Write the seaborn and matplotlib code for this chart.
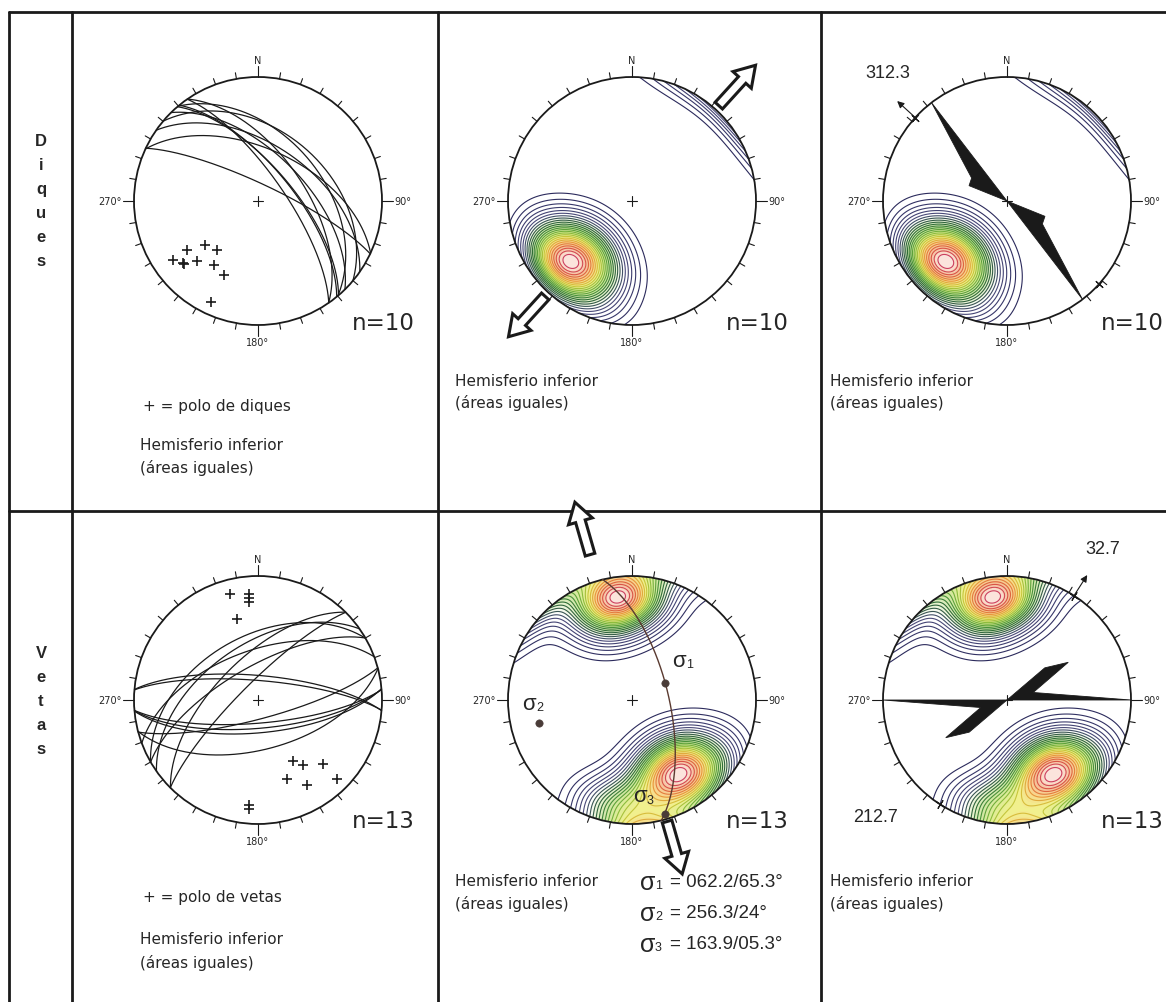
import numpy as np
import pandas as pd
import seaborn as sns
import matplotlib
matplotlib.use("Agg")
import matplotlib.pyplot as plt
from matplotlib.patches import Circle, FancyArrow, Polygon
from matplotlib.colors import LinearSegmentedColormap

sns.set_theme(style="white")
plt.rcParams['font.family'] = ['DejaVu Sans']

# polos de diques (trend / plunge)
dique_trend = [229.9, 220.1, 235.3, 235.2, 230.6, 229.5, 225.5, 214.8, 204.8, 205.2]
dique_plunge = [43.9, 47.5, 30.9, 17.2, 22.3, 22.8, 31.2, 37.4, 34.6, 11.3]

# polos de vetas (trend / plunge)
veta_trend = [345.0, 355.2, 355.0, 354.8, 345.3, 150.1, 145.0, 134.9, 159.6, 150.0, 135.0, 184.9, 184.7]
veta_plunge = [12.4, 15.2, 18.6, 21.6, 32.9, 42.5, 36.6, 27.3, 32.8, 21.8, 11.2, 16.1, 12.8]

# ejes de esfuerzo (vetas)
sigma_names = ["σ1", "σ2", "σ3"]
sigma_trend = [62.2, 256.3, 163.9]
sigma_plunge = [65.3, 24.0, 5.3]
sigma_txt = ["062.2/65.3°", "256.3/24°", "163.9/05.3°"]

# rosetas (azimut de vertice / longitud relativa)
rose_dique_az = [292.0, 303.0, 322.5]
rose_dique_len = [0.33, 0.34, 1.0]
rose_veta_az = [49.6, 58.4, 74.0, 90.0]
rose_veta_len = [0.40, 0.58, 0.22, 1.0]

mean_dique = 312.3
mean_veta = 32.7


def project(trend, plunge):
    t = np.radians(np.asarray(trend, float))
    p = np.radians(np.asarray(plunge, float))
    r = np.sqrt(2) * np.sin((np.pi / 2 - p) / 2)
    return r * np.sin(t), r * np.cos(t)


def plane_from_pole(trend, plunge, n=181):
    dd = np.radians(trend + 180)
    dip = np.radians(90 - plunge)
    s = dd - np.pi / 2
    sv = np.array([np.sin(s), np.cos(s), 0.0])
    dv = np.array([np.cos(dip) * np.sin(dd), np.cos(dip) * np.cos(dd), np.sin(dip)])
    t = np.linspace(0, np.pi, n)
    v = np.outer(np.cos(t), sv) + np.outer(np.sin(t), dv)
    tr = np.degrees(np.arctan2(v[:, 0], v[:, 1]))
    pl = np.degrees(np.arcsin(np.clip(v[:, 2], -1, 1)))
    return project(tr, pl)


def vec(trend, plunge):
    t = np.radians(np.asarray(trend, float))
    p = np.radians(np.asarray(plunge, float))
    return np.stack([np.cos(p) * np.sin(t), np.cos(p) * np.cos(t), np.sin(p)], -1)


def density(trend, plunge, k=13, n=301):
    xs = np.linspace(-1.05, 1.05, n)
    X, Y = np.meshgrid(xs, xs)
    R = np.hypot(X, Y)
    th = 2 * np.arcsin(np.clip(R / np.sqrt(2), 0, 1))
    tr = np.arctan2(X, Y)
    G = np.stack([np.sin(th) * np.sin(tr), np.sin(th) * np.cos(tr), np.cos(th)], -1)
    P = vec(trend, plunge)
    d = np.exp(k * (np.abs(G @ P.T) - 1)).sum(-1)
    return X, Y, d


W, H = 1166, 1003
fig = plt.figure(figsize=(W / 100, H / 100), dpi=100)
bg = fig.add_axes([0, 0, 1, 1])
bg.set_xlim(0, W)
bg.set_ylim(H, 0)
bg.axis("off")

# marco
XL = [9, 72, 438, 821]
YL = [13, 512]
for x in XL:
    bg.plot([x, x], [YL[0], H], color="k", lw=2)
for y in YL:
    bg.plot([XL[0], W], [y, y], color="k", lw=2)

CX = [258, 632, 1007]
CY = [202, 701]
RPX = 124
L = 1.75

line_cmap = LinearSegmentedColormap.from_list(
    "lines", ["#2b2a5c", "#3a3a6c", "#4a4a78", "#35584a", "#2f6e36", "#4f9a3a",
              "#8cbc3c", "#d2c83c", "#e8963c", "#dc5a40", "#cc4060"])
fill_cmap = LinearSegmentedColormap.from_list(
    "fill", ["#ffffff", "#e6f2cf", "#cfe6a6", "#dcec98", "#f1f08e", "#f8d88c", "#f6c09a", "#fce9e4"])

fam = ["Liberation Sans", "DejaVu Sans"]


def net(cx, cy):
    w = 2 * L * RPX
    ax = fig.add_axes([(cx - L * RPX) / W, 1 - (cy + L * RPX) / H, w / W, w / H])
    ax.set_xlim(-L, L)
    ax.set_ylim(-L, L)
    ax.axis("off")
    ax.patch.set_alpha(0)
    prim = Circle((0, 0), 1, fill=False, lw=1.3, color="k", zorder=5)
    ax.add_patch(prim)
    for a in range(0, 360, 10):
        s, c = np.sin(np.radians(a)), np.cos(np.radians(a))
        r2 = 1.05 if a % 90 else 1.09
        ax.plot([s, r2 * s], [c, r2 * c], color="k", lw=0.8)
    ax.text(0, 1.1, "N", ha="center", va="bottom", fontsize=7)
    ax.text(1.1, 0, "90°", ha="left", va="center", fontsize=7)
    ax.text(0, -1.1, "180°", ha="center", va="top", fontsize=7)
    ax.text(-1.1, 0, "270°", ha="right", va="center", fontsize=7)
    ax.plot([-0.04, 0.04], [0, 0], color="k", lw=0.8)
    ax.plot([0, 0], [-0.04, 0.04], color="k", lw=0.8)
    return ax, prim


def contours(ax, prim, trend, plunge):
    X, Y, d = density(trend, plunge)
    top = d.max()
    cf = ax.contourf(X, Y, d, levels=np.linspace(0.3 * top, top, 30), cmap=fill_cmap, zorder=1)
    cf.set_clip_path(prim)
    cs = ax.contour(X, Y, d, levels=np.linspace(0.06 * top, 0.97 * top, 26),
                    cmap=line_cmap, linewidths=0.8, zorder=2)
    cs.set_clip_path(prim)


def block_arrow(ax, az, r0, length=0.44):
    s, c = np.sin(np.radians(az)), np.cos(np.radians(az))
    ax.add_patch(FancyArrow(r0 * s, r0 * c, length * s, length * c, width=0.08,
                            head_width=0.2, head_length=0.16, length_includes_head=True,
                            fc="white", ec="k", lw=2.2, clip_on=False, zorder=6))


def rose(ax, az, ln):
    pts = [(0, 0)]
    for a, l in zip(az, ln):
        pts.append((l * np.sin(np.radians(a)), l * np.cos(np.radians(a))))
    pts.append((0, 0))
    for a, l in zip(az, ln):
        pts.append((l * np.sin(np.radians(a + 180)), l * np.cos(np.radians(a + 180))))
    ax.add_patch(Polygon(pts, closed=True, fc="k", ec="k", lw=0.6, zorder=4))


def mean_mark(ax, az, arrow=True):
    for a in (az, az + 180):
        s, c = np.sin(np.radians(a)), np.cos(np.radians(a))
        ax.plot(s, c, marker=(4, 2, -a), ms=7, color="k", mew=0.8, zorder=6)
    if arrow:
        s, c = np.sin(np.radians(az)), np.cos(np.radians(az))
        ax.annotate("", xy=(1.22 * s, 1.22 * c), xytext=(0.98 * s, 0.98 * c),
                    arrowprops=dict(arrowstyle="-|>", lw=0.8, color="k", mutation_scale=10))


def poles_and_planes(ax, trend, plunge):
    px, py = project(trend, plunge)
    rows = []
    for i, (t, p) in enumerate(zip(trend, plunge)):
        gx, gy = plane_from_pole(t, p)
        rows.append(pd.DataFrame({"x": gx, "y": gy, "id": i}))
    gc = pd.concat(rows)
    sns.lineplot(data=gc, x="x", y="y", units="id", estimator=None, sort=False,
                 color="k", lw=0.9, ax=ax, legend=False)
    sns.scatterplot(x=px, y=py, marker="+", color="k", s=60, linewidth=1.2, ax=ax, legend=False)
    ax.set_xlabel("")
    ax.set_ylabel("")


# ---- Diques ----
ax, prim = net(CX[0], CY[0])
poles_and_planes(ax, dique_trend, dique_plunge)

ax, prim = net(CX[1], CY[0])
contours(ax, prim, dique_trend, dique_plunge)
block_arrow(ax, mean_dique - 270, 1.04)
block_arrow(ax, mean_dique - 90, 1.04)

ax, prim = net(CX[2], CY[0])
contours(ax, prim, dique_trend, dique_plunge)
rose(ax, rose_dique_az, rose_dique_len)
mean_mark(ax, mean_dique)

# ---- Vetas ----
ax, prim = net(CX[0], CY[1])
poles_and_planes(ax, veta_trend, veta_plunge)

ax, prim = net(CX[1], CY[1])
contours(ax, prim, veta_trend, veta_plunge)
gx, gy = plane_from_pole(sigma_trend[1], sigma_plunge[1])
ax.plot(gx, gy, color="#5a3a30", lw=1.0, zorder=5)
sx, sy = project(sigma_trend, sigma_plunge)
sns.scatterplot(x=sx, y=sy, color="#4a3c38", s=28, edgecolor="#4a3c38", ax=ax, legend=False, zorder=7)
ax.set_xlabel("")
ax.set_ylabel("")
lab_off = [(0.056, 0.18), (-0.137, 0.157), (-0.255, 0.142)]
for nm, x, y, (dx, dy) in zip(sigma_names, sx, sy, lab_off):
    ax.text(x + dx, y + dy, "σ", fontsize=16, ha="left", va="center", family=fam)
    ax.text(x + dx + 0.11, y + dy - 0.03, nm[1], fontsize=9, ha="left", va="center", family=fam)
block_arrow(ax, sigma_trend[2] + 180, 1.22)
block_arrow(ax, sigma_trend[2], 1.02)

ax, prim = net(CX[2], CY[1])
contours(ax, prim, veta_trend, veta_plunge)
rose(ax, rose_veta_az, rose_veta_len)
mean_mark(ax, mean_veta)

# ---- textos ----
for i, w in enumerate("Diques"):
    bg.text(41, 141 + 24 * i, w, ha="center", va="center", fontsize=12, fontweight="bold", family=fam)
for i, w in enumerate("Vetas"):
    bg.text(41, 653 + 24 * i, w, ha="center", va="center", fontsize=12, fontweight="bold", family=fam)

tk = dict(fontsize=11, ha="left", va="center")
for cy, n in zip(CY, ["n=10", "n=13"]):
    for cx in CX:
        bg.text(cx + 94, cy + 121, n, fontsize=16.5, ha="left", va="center")

bg.text(143, 407, "+ = polo de diques", **tk)
bg.text(140, 446, "Hemisferio inferior", **tk)
bg.text(140, 468, "(áreas iguales)", **tk)
bg.text(143, 898, "+ = polo de vetas", **tk)
bg.text(140, 940, "Hemisferio inferior", **tk)
bg.text(140, 963, "(áreas iguales)", **tk)
for x0 in (455, 830):
    for y0 in (381, 882):
        bg.text(x0, y0, "Hemisferio inferior", **tk)
        bg.text(x0, y0 + 22, "(áreas iguales)", **tk)

for i, t in enumerate(sigma_txt):
    y0 = 883 + 31 * i
    bg.text(640, y0, "σ", fontsize=18, ha="left", va="center", family=fam)
    bg.text(655, y0 + 3, str(i + 1), fontsize=9, ha="left", va="center", family=fam)
    bg.text(670, y0, "= " + t, fontsize=13.5, ha="left", va="center", family=fam)

lab = dict(fontsize=13, ha="left", va="center", family=fam)
bg.text(865, 73, "312.3", **lab)
bg.text(1085, 550, "32.7", **lab)
bg.text(853, 818, "212.7", **lab)

fig.savefig("out.png", dpi=100)
